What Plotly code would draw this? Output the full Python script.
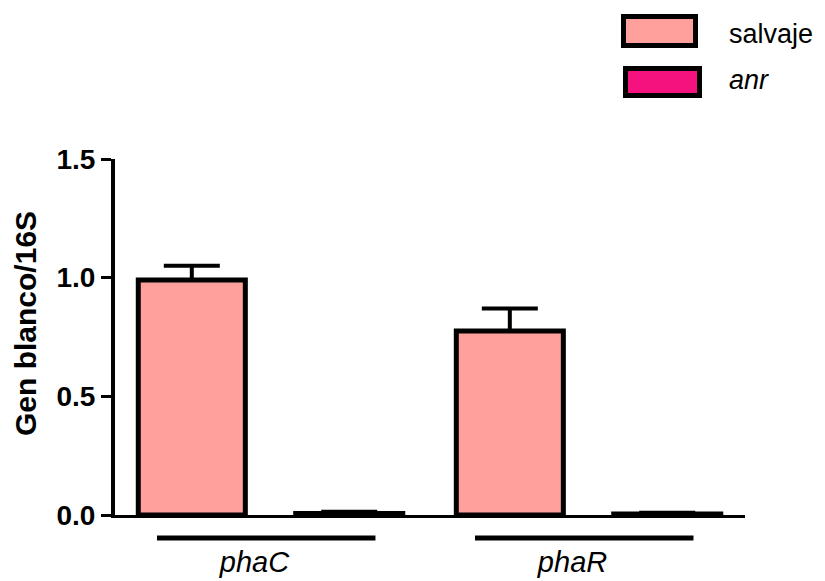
import plotly.graph_objects as go

categories = ["phaC", "phaR"]
series_names = ["salvaje", "anr"]
salvaje_vals = [0.99, 0.775]
salvaje_err = [0.06, 0.095]
anr_vals = [0.006, 0.004]
anr_err = [0.008, 0.006]
y_ticks = [0.0, 0.5, 1.0, 1.5]
y_ticklabels = ["0.0", "0.5", "1.0", "1.5"]

colors = ["#FFA09C", "#F5127E"]
FONT = "Arial, Liberation Sans, sans-serif"

# plot area in pixels
L, R, T, B = 115, 745, 159, 515
W, H = R - L, B - T

fig = go.Figure()
for name, vals, errs, col in [
    (series_names[0], salvaje_vals, salvaje_err, colors[0]),
    (series_names[1], anr_vals, anr_err, colors[1]),
]:
    fig.add_trace(go.Bar(
        x=categories, y=vals, name=name,
        marker=dict(color=col, line=dict(color="black", width=5)),
        error_y=dict(type="data", array=errs, arrayminus=[0] * len(errs),
                     symmetric=False, color="black", thickness=4, width=28),
        showlegend=False,
    ))

fig.update_layout(
    barmode="group", bargap=0.01, bargroupgap=0.32,
    width=825, height=581,
    margin=dict(l=L, r=825 - R, t=T, b=581 - B, autoexpand=False),
    plot_bgcolor="white", paper_bgcolor="white",
    font=dict(family=FONT, color="black"),
)
fig.update_xaxes(
    range=[-0.489, 1.492], showline=True, linecolor="black", linewidth=3,
    ticks="", showgrid=False, zeroline=False, automargin=False,
    tickvals=categories, ticktext=["<i>%s</i>" % c for c in categories],
    tickfont=dict(size=29, family=FONT), ticklabelstandoff=19,
    ticklabelshift=-16,
)
fig.update_yaxes(
    range=[0, 1.5], showline=True, linecolor="black", linewidth=4,
    ticks="outside", ticklen=10, tickwidth=3, tickcolor="black",
    tickvals=y_ticks, ticktext=["<b>%s</b>" % t for t in y_ticklabels],
    tickfont=dict(size=28, family=FONT), showgrid=False, zeroline=False,
    automargin=False,
)

# y-axis title
fig.add_annotation(xref="paper", yref="paper", x=(25 - L) / W, y=(B - 324) / H,
                   text="<b>Gen blanco/16S</b>", textangle=-90, showarrow=False,
                   xanchor="center", yanchor="middle",
                   font=dict(size=30, family=FONT, color="black"))

# category underlines
for i, c in enumerate(categories):
    fig.add_shape(type="line", xref="x", yref="paper",
                  x0=i - 0.357, x1=i + 0.33, y0=(B - 538) / H, y1=(B - 538) / H,
                  line=dict(color="black", width=5))

# custom legend
leg_boxes = [(623.5, 695.5, 16.5, 45.5), (625.5, 699.5, 68.5, 95.5)]
leg_text_y = [34, 80]
for j, (name, col) in enumerate(zip(series_names, colors)):
    x0, x1, y0, y1 = leg_boxes[j]
    fig.add_shape(type="rect", xref="paper", yref="paper",
                  x0=(x0 - L) / W, x1=(x1 - L) / W,
                  y0=(B - y1) / H, y1=(B - y0) / H,
                  line=dict(color="black", width=5), fillcolor=col)
    txt = name if j == 0 else "<i>%s</i>" % name
    fig.add_annotation(xref="paper", yref="paper", x=(727 - L) / W,
                       y=(B - leg_text_y[j]) / H, text=txt, showarrow=False,
                       xanchor="left", yanchor="middle",
                       font=dict(size=27, family=FONT, color="black"))

fig.write_html("out.html", config={"displayModeBar": False},
               post_script="document.body.style.margin='0px';document.body.style.overflow='hidden';")
